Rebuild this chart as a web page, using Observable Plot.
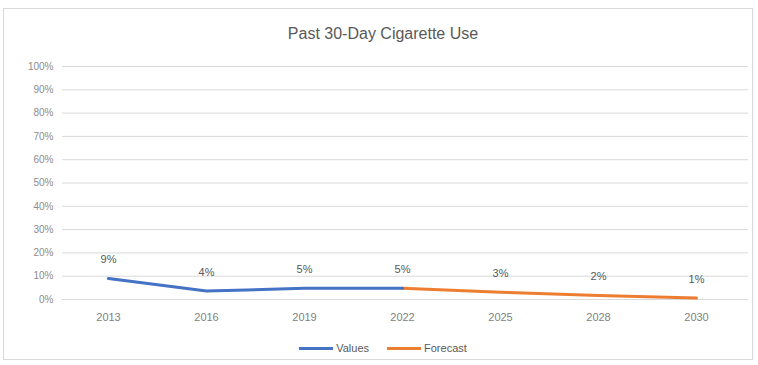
<!DOCTYPE html>
<html>
<head>
<meta charset="utf-8">
<script src="https://cdn.jsdelivr.net/npm/d3@7"></script>
<script src="https://cdn.jsdelivr.net/npm/@observablehq/plot@0.6"></script>
<style>
  body { margin: 0; background: #fff; font-family: "Liberation Sans", Arial, sans-serif; }
  #frame { position: absolute; left: 3px; top: 8px; width: 750px; height: 352px; border: 1px solid #d9d9d9; box-sizing: border-box; }
  #title { position: absolute; left: 0; width: 766px; top: 25px; text-align: center; font-size: 16px; color: #595959; }
  #chart { position: absolute; left: 0; top: 50px; }
  #legend { position: absolute; top: 342px; left: 0; width: 766px; display: flex; justify-content: center; gap: 18px; font-size: 11px; color: #595959; }
  .item { display: flex; align-items: center; gap: 3px; }
  .sw { width: 34px; height: 3px; }
</style>
</head>
<body>
<div id="frame"></div>
<div id="title">Past 30-Day Cigarette Use</div>
<div id="chart"></div>
<div id="legend">
  <div class="item"><span class="sw" style="background:#4472C4"></span>Values</div>
  <div class="item"><span class="sw" style="background:#ED7D31"></span>Forecast</div>
</div>
<script>
const years = ["2013", "2016", "2019", "2022", "2025", "2028", "2030"];
const actualValues = [0.09, 0.036, 0.048, 0.048, null, null, null];
const forecastValues = [null, null, null, 0.048, 0.031, 0.017, 0.006];
const labelValues = [0.09, 0.036, 0.048, 0.048, 0.031, 0.017, 0.006];
const yTicks = [0, 0.1, 0.2, 0.3, 0.4, 0.5, 0.6, 0.7, 0.8, 0.9, 1.0];

const actual = years.map((y, i) => ({year: y, v: actualValues[i]})).filter(d => d.v != null);
const forecast = years.map((y, i) => ({year: y, v: forecastValues[i]})).filter(d => d.v != null);
const labels = years.map((y, i) => ({year: y, v: labelValues[i]}));

const plot = Plot.plot({
  width: 758,
  height: 280,
  marginLeft: 62,
  marginRight: 10,
  marginTop: 16,
  marginBottom: 31,
  style: {fontFamily: "Liberation Sans, Arial, sans-serif", background: "transparent"},
  x: {type: "point", domain: years, range: [106, 698], padding: 0, label: null},
  y: {domain: [0, 1], label: null},
  marks: [
    Plot.ruleY(yTicks, {stroke: "#d9d9d9", strokeWidth: 1}),
    Plot.axisY({ticks: yTicks, tickFormat: d3.format(".0%"), tickSize: 0, tickPadding: 9, fontSize: 10, fill: "#8c8c8c", label: null}),
    Plot.axisX({tickSize: 0, tickPadding: 14, fontSize: 11, fill: "#7f7f7f", label: null}),
    Plot.line(forecast, {x: "year", y: "v", stroke: "#ED7D31", strokeWidth: 3}),
    Plot.line(actual, {x: "year", y: "v", stroke: "#4472C4", strokeWidth: 3}),
    Plot.text(labels, {x: "year", y: "v", text: d => d3.format(".0%")(d.v), dy: -19, fontSize: 11, fill: "#595959"})
  ]
});
document.getElementById("chart").appendChild(plot);
</script>
</body>
</html>
